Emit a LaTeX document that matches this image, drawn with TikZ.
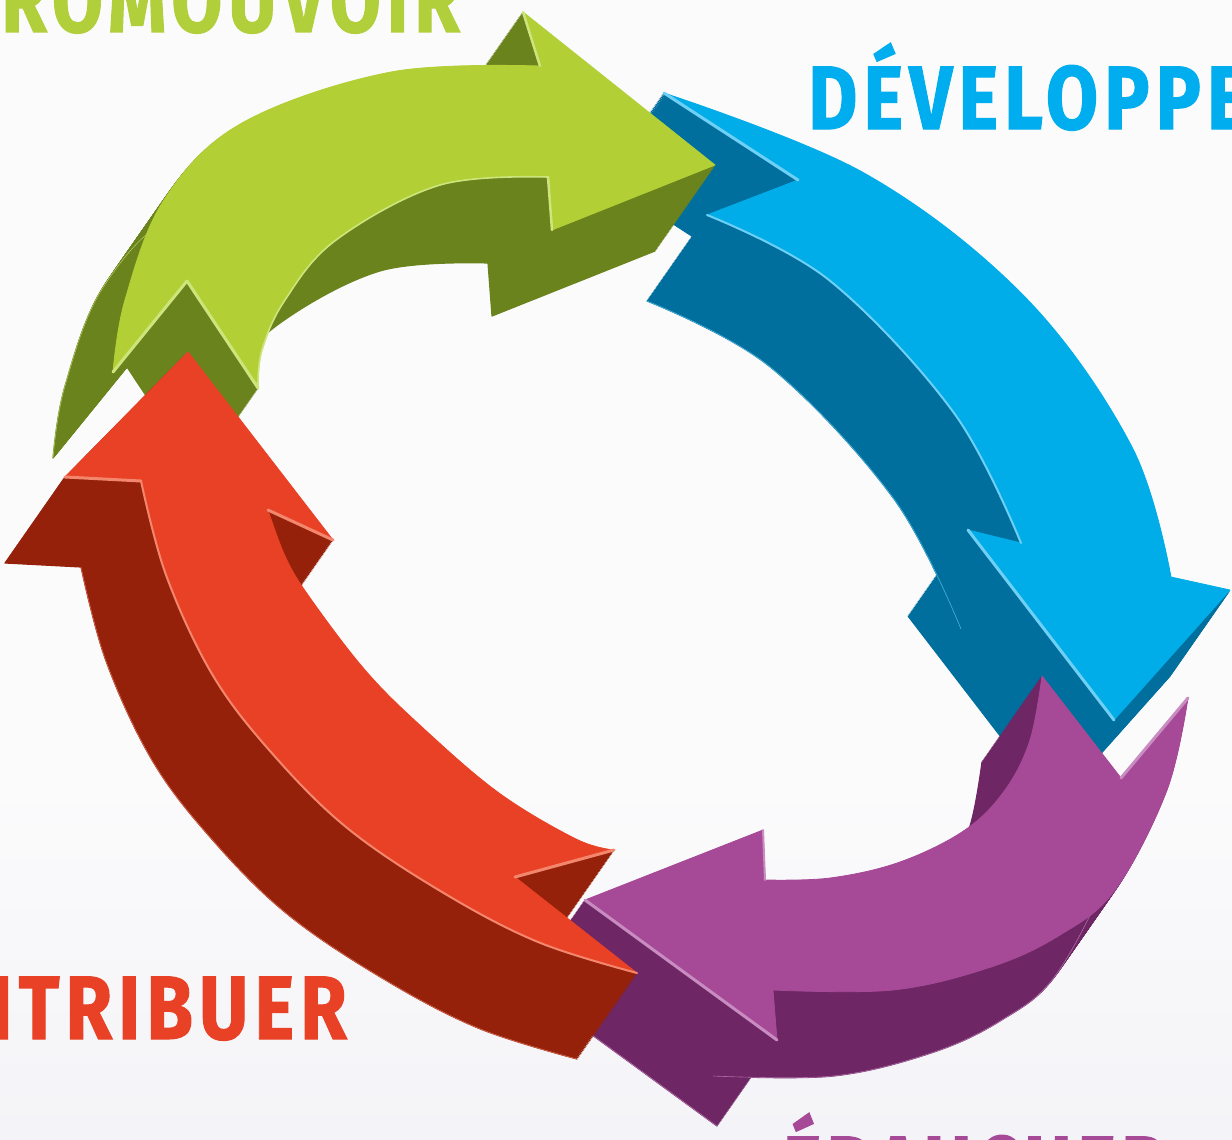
\documentclass[tikz,border=0pt]{standalone}
\usepackage{fontspec}
\setmainfont{Fira Sans}
\newfontfamily\lblfont[LetterSpace=8,BoldFeatures={FakeBold=1.3}]{Fira Sans}
\usepackage{graphicx}
\definecolor{bg}{RGB}{251,251,252}
\definecolor{bgb}{RGB}{244,244,248}
\definecolor{gtop}{RGB}{178,208,53}
\definecolor{gside}{RGB}{107,131,29}
\definecolor{ghl}{RGB}{206,228,125}
\definecolor{btop}{RGB}{0,173,233}
\definecolor{bside}{RGB}{0,111,157}
\definecolor{bhl}{RGB}{110,208,245}
\definecolor{ptop}{RGB}{166,74,151}
\definecolor{pside}{RGB}{110,38,100}
\definecolor{phl}{RGB}{200,140,192}
\definecolor{rtop}{RGB}{233,65,37}
\definecolor{rside}{RGB}{150,33,10}
\definecolor{rhl}{RGB}{243,135,110}
\definecolor{gtxt}{RGB}{177,207,58}
\definecolor{btxt}{RGB}{0,174,239}
\definecolor{rtxt}{RGB}{233,65,37}
\definecolor{ptxt}{RGB}{166,74,151}
\tikzset{
  lbl/.style={font=\lblfont\fontsize{90}{90}\selectfont\bfseries, inner sep=0pt},
  topface/.style={fill=#1, draw=#1, line width=0.8pt, line join=round},
  sideface/.style={fill=#1, draw=#1, line width=1.2pt, line join=round},
  hl/.style={draw=#1, line width=3pt, line cap=round, line join=round},
  edgeline/.style={draw=#1, line width=0.6pt, opacity=0.7},
  bottom/.style={shift={(-60,86)}},
}
\def\gin{(258,388) (262,350) (285,300) (336,240) (440,185) (548,177)}
\def\gout{(540,66) (391,72) (242,123) (164,200) (125,300) (113,372)}
\def\bin{(707,215) (829,280) (954,413) (1021,543)}
\def\bout{(1171,577) (1132,447) (1025,297) (864,173) (664,93)}
\def\pout{(1188,698) (1167,790) (1115,890) (1060,935) (991,967) (893,990) (773,990)}
\def\pin{(765,880) (830,878) (900,862) (965,830) (1005,790) (1030,740) (1042,676)}
\def\rin{(268,510) (285,556) (308,595) (365,670) (423,728) (499,793) (576,839) (614,850)}
\def\rout{(637,973) (538,942) (442,892) (346,827) (270,751) (212,674) (166,575) (141,481)}
\newcommand\gpath[1]{\path[#1] (113,372) -- (187,281) -- (258,388)
 -- plot[smooth,tension=0.6] coordinates {\gin}
 -- (552,230) -- (715,165) -- (523,12) -- (540,66)
 -- plot[smooth,tension=0.6] coordinates {\gout} -- cycle;}
\newcommand\bpath[1]{\path[#1] (664,93) -- (798,180) -- (707,215)
 -- plot[smooth,tension=0.6] coordinates {\bin}
 -- (968,530) -- (1114,720) -- (1230,590) -- (1171,577)
 -- plot[smooth,tension=0.6] coordinates {\bout} -- cycle;}
\newcommand\ppath[1]{\path[#1] (1042,676) -- (1121,778) -- (1188,698)
 -- plot[smooth,tension=0.6] coordinates {\pout}
 -- (777,1040) -- (585,900) -- (763,830) -- (765,880)
 -- plot[smooth,tension=0.6] coordinates {\pin} -- cycle;}
\newcommand\rpath[1]{\path[#1] (188,352) -- (333,540) -- (268,510)
 -- plot[smooth,tension=0.6] coordinates {\rin}
 -- (515,877) -- (637,973)
 -- plot[smooth,tension=0.6] coordinates {\rout}
 -- (65,477) -- cycle;}
\newcommand\extrude[2]{\foreach \k in {60,59,...,1}{#1{sideface=#2, shift={(-1*\k,1.4333*\k)}}}}
\begin{document}
\begin{tikzpicture}[x=1pt,y=-1pt]
\useasboundingbox (0,0) rectangle (1232,1140);
\fill[bg] (0,0) rectangle (1232,1140);
\shade[top color=bg, bottom color=bgb] (0,780) rectangle (1232,1140);
\clip (0,0) rectangle (1232,1140);
% blue arrow (DEVELOPPER)
\extrude{\bpath}{bside}
\draw[edgeline=bhl, bottom] plot[smooth,tension=0.6] coordinates {\bin};
\bpath{topface=btop}
\draw[hl=bhl] (664,93) -- (798,180);
\draw[hl=bhl] (968,530) -- (1114,720);
\draw[hl=bhl, line width=2pt] plot[smooth,tension=0.6] coordinates {\bin};
% purple arrow (EBAUCHER)
\extrude{\ppath}{pside}
\draw[edgeline=phl, bottom] plot[smooth,tension=0.6] coordinates {\pout};
\draw[edgeline=phl, bottom] (777,1040) -- (585,900);
\ppath{topface=ptop}
\draw[hl=phl] (585,900) -- (777,1040);
\draw[hl=phl] (1121,778) -- (1188,698);
\draw[hl=phl, line width=2pt] (763,830) -- (765,880);
% green arrow (PROMOUVOIR)
\extrude{\gpath}{gside}
\draw[edgeline=ghl, bottom] plot[smooth,tension=0.6] coordinates {\gout};
\gpath{topface=gtop}
\draw[hl=ghl] (113,372) -- (187,281) -- (258,388);
\draw[hl=ghl, line width=2.5pt] (523,12) -- (540,66);
\draw[hl=ghl, line width=2.5pt] (548,177) -- (552,230);
\draw[hl=ghl, line width=1.6pt] plot[smooth,tension=0.6] coordinates {\gin};
% red arrow (CONTRIBUER)
\extrude{\rpath}{rside}
\draw[edgeline=rhl, bottom] plot[smooth,tension=0.6] coordinates {\rout};
\rpath{topface=rtop}
\draw[hl=rhl] (65,477) -- (141,481);
\draw[hl=rhl] (268,510) -- (333,540);
\draw[hl=rhl] (614,850) -- (515,877);
\draw[hl=rhl, line width=2pt] plot[smooth,tension=0.6] coordinates {\rout};
% labels
\node[lbl, text=gtxt, anchor=base east] (promouvoir) at (460,32) {\scalebox{0.82}[1]{PROMOUVOIR}};
\node[lbl, text=btxt, anchor=base west] (developper) at (808,129) {\scalebox{0.84}[1]{DÉVELOPPER}};
\node[lbl, text=rtxt, anchor=base east] (contribuer) at (347,1039) {\scalebox{0.84}[1]{CONTRIBUER}};
\node[lbl, text=ptxt, anchor=base west] (ebaucher) at (783,1199) {\scalebox{0.80}[1]{ÉBAUCHER}};
\end{tikzpicture}
\end{document}
